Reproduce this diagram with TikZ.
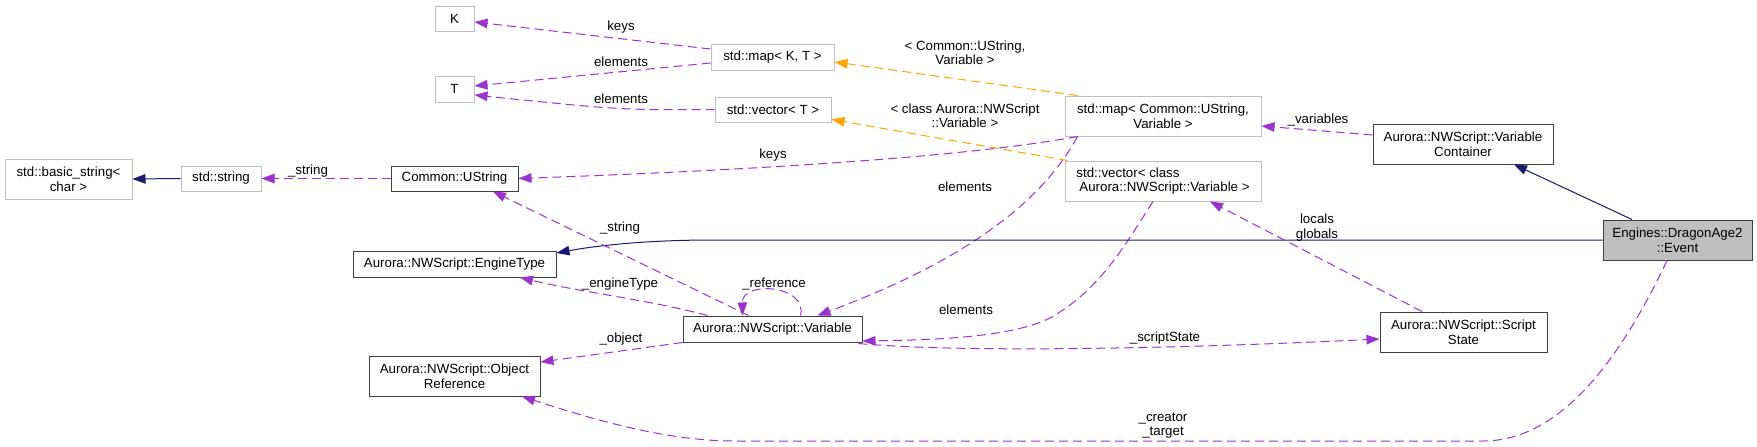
\documentclass[tikz,border=0pt]{standalone}
\usepackage{fontspec}
\setmainfont{Liberation Sans}
\usetikzlibrary{arrows.meta,calc}
\definecolor{purp}{HTML}{9A32CD}
\definecolor{orng}{HTML}{FFA500}
\definecolor{navy}{HTML}{191970}
\definecolor{gbord}{HTML}{BFBFBF}
\definecolor{bbord}{HTML}{404040}
\definecolor{evfill}{HTML}{BFBFBF}
\begin{document}
\begin{tikzpicture}[x=1pt,y=-1pt,
  font=\fontsize{13.3}{14.5}\selectfont,
  box/.style={draw=bbord, line width=1pt, inner sep=0pt, align=center, text=black},
  gbox/.style={box, draw=gbord},
  lbl/.style={inner sep=0pt, align=center},
  tip/.style={-{Triangle[length=13pt,width=9.5pt]}},
  pe/.style={draw=purp, line width=1pt, dash pattern=on 9pt off 5pt, tip},
  oe/.style={draw=orng, line width=1pt, dash pattern=on 9pt off 5pt, tip},
  ne/.style={draw=navy, line width=1pt, tip}]
\useasboundingbox[fill=white] (0,0) rectangle (1757,447);

% nodes
\node[gbox, minimum width=39pt, minimum height=25pt] (K) at (454.5,18.5) {K};
\node[gbox, minimum width=39pt, minimum height=26pt] (T) at (454.5,89) {T};
\node[gbox, minimum width=127pt, minimum height=40pt] (bstr) at (68.5,179) {std::basic\_string<\\char >};
\node[gbox, minimum width=80pt, minimum height=25pt] (stdstr) at (221,178.5) {std::string};
\node[box, minimum width=127pt, minimum height=25pt] (ustr) at (454.5,178.5) {Common::UString};
\node[gbox, minimum width=123pt, minimum height=26pt] (mapKT) at (772.5,57) {std::map< K, T >};
\node[gbox, minimum width=116pt, minimum height=25pt] (vecT) at (773,109.5) {std::vector< T >};
\node[gbox, minimum width=196pt, minimum height=40pt] (mapUV) at (1163,116) {std::map< Common::UString,\\Variable >};
\node[gbox, minimum width=196pt, minimum height=40pt, align=left] (vecV) at (1163,181) {std::vector< class\\\hspace*{3pt}Aurora::NWScript::Variable >};
\node[box, minimum width=180pt, minimum height=40pt] (varc) at (1463,144) {Aurora::NWScript::Variable\\Container};
\node[box, fill=evfill, minimum width=149pt, minimum height=40pt] (event) at (1677.5,240) {Engines::DragonAge2\\::Event};
\node[box, minimum width=167pt, minimum height=40pt] (sstate) at (1463.5,332) {Aurora::NWScript::Script\\State};
\node[box, minimum width=203pt, minimum height=26pt] (etype) at (454.5,264) {Aurora::NWScript::EngineType};
\node[box, minimum width=171pt, minimum height=40pt] (objref) at (454.5,376) {Aurora::NWScript::Object\\Reference};
\node[box, minimum width=179pt, minimum height=26pt] (var) at (772.5,329) {Aurora::NWScript::Variable};

% edges
\draw[ne] (stdstr.west) -- (bstr.east);
\draw[pe] (ustr.west) -- (stdstr.east);
\draw[pe] ($(mapKT.west)+(0,-8)$) -- ($(K.east)+(0,3.5)$);
\draw[pe] ($(mapKT.west)+(0,6)$) -- ($(T.east)+(0,-3)$);
\draw[pe] (vecT.west) .. controls (620,110) .. ($(T.east)+(0,6)$);
\draw[oe] ($(mapUV.north west)+(13,0)$) -- ($(mapKT.east)+(0,5)$);
\draw[oe] ($(vecV.north west)+(3,0)$) -- ($(vecT.east)+(0,10)$);
\draw[pe] ($(mapUV.south west)+(13,0)$) .. controls (950,160) and (700,172) .. (ustr.east);
\draw[pe] ($(mapUV.south west)+(13,0)$) .. controls (1035,215) and (940,270) .. ($(var.north)+(45,0)$);
\draw[pe] ($(vecV.south)+(-10,0)$) .. controls (1125,245) and (1100,290) .. (1050,318) .. controls (1010,338) and (930,340) .. ($(var.east)+(0,12)$);
\draw[pe] ($(varc.west)+(0,-9)$) -- ($(mapUV.east)+(0,10)$);
\draw[ne] ($(event.north)+(-45.5,0)$) -- ($(varc.south)+(51,0)$);
\draw[ne] (event.west) -- (713,240) .. controls (650,240) and (600,245) .. ($(etype.east)+(0,-11)$);
\draw[pe] ($(var.north)+(-24,0)$) -- ($(ustr.south)+(38.5,0)$);
\draw[pe] ($(var.north west)+(25,0)$) .. controls (650,300) and (580,292) .. ($(etype.south)+(65.5,0)$);
\draw[pe] ($(var.north)+(28,0)$) .. controls (808,285) and (742,280) .. ($(var.north)+(-30,0)$);
\draw[pe] ($(var.south west)+(0,0)$) -- ($(objref.east)+(0,-14)$);
\draw[pe] ($(var.south east)+(-4,1)$) .. controls (950,352) and (1150,350) .. ($(sstate.west)+(0,7)$);
\draw[pe] ($(sstate.north)+(-41.5,0)$) -- ($(vecV.south)+(47,0)$);
\draw[pe] ($(event.south)+(-10.5,0)$) .. controls (1620,360) and (1560,441) .. (1483,441) -- (734,441) .. controls (660,441) and (580,415) .. ($(objref.south)+(67.5,0)$);

% labels
\node[lbl] (l1) at (308,171) {\_string};
\node[lbl] (l2) at (621,27) {keys};
\node[lbl] (l3) at (621,62) {elements};
\node[lbl] (l4) at (621,99) {elements};
\node[lbl] (l5) at (965,52.5) {< Common::UString,\\Variable >};
\node[lbl] (l6) at (965,115.5) {< class Aurora::NWScript\\::Variable >};
\node[lbl] (l7) at (773,155) {keys};
\node[lbl] (l8) at (965,187) {elements};
\node[lbl] (l9) at (1318,120) {\_variables};
\node[lbl] (l10) at (1317,227.5) {locals\\globals};
\node[lbl] (l11) at (620,228) {\_string};
\node[lbl] (l12) at (620,284) {\_engineType};
\node[lbl] (l13) at (774,284) {\_reference};
\node[lbl] (l14) at (621,339) {\_object};
\node[lbl] (l15) at (966,310) {elements};
\node[lbl] (l16) at (1165,338) {\_scriptState};
\node[lbl] (l17) at (1163,425.5) {\_creator\\\_target};
\end{tikzpicture}
\end{document}
